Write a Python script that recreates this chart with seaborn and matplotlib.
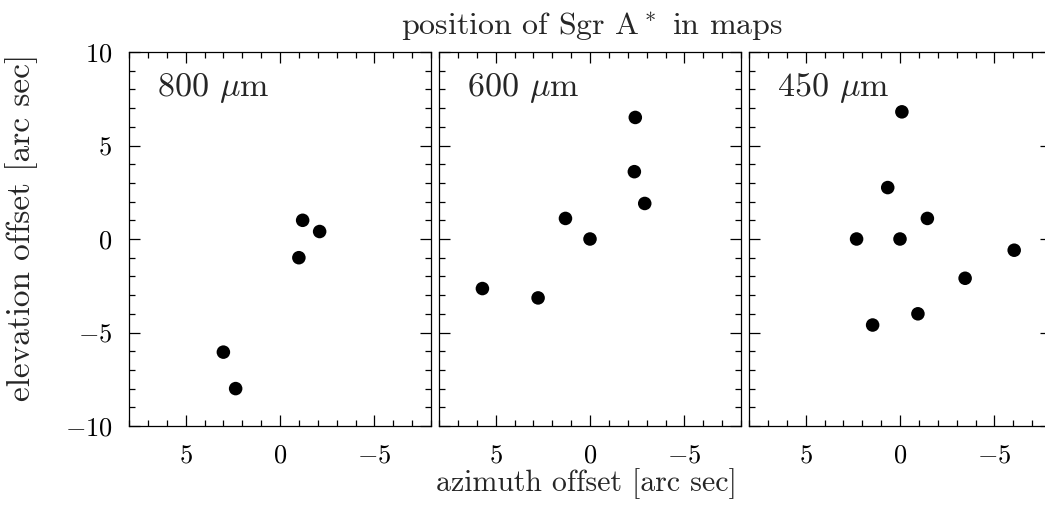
import numpy as np
import pandas as pd
import matplotlib
matplotlib.use("Agg")
import matplotlib.pyplot as plt
from matplotlib.ticker import MultipleLocator
import seaborn as sns

# offsets of Sgr A* (arc sec)
bands = ["800", "600", "450"]
az_800 = [-1.2, -2.1, -1.0, 3.0, 2.35]
el_800 = [1.0, 0.4, -1.0, -6.05, -8.0]
az_600 = [-2.4, -2.35, -2.9, 1.3, 0.0, 5.7, 2.75]
el_600 = [6.5, 3.6, 1.9, 1.1, 0.0, -2.65, -3.15]
az_450 = [-0.1, 0.65, -1.45, 2.3, 0.0, -6.05, -3.45, -0.95, 1.45]
el_450 = [6.8, 2.75, 1.1, 0.0, 0.0, -0.6, -2.1, -4.0, -4.6]

df = pd.concat([
    pd.DataFrame({"band": b, "az": a, "el": e})
    for b, a, e in zip(bands, [az_800, az_600, az_450], [el_800, el_600, el_450])
])

sns.set_theme(style="ticks")
plt.rcParams["font.family"] = ["cmr10"]
plt.rcParams["mathtext.fontset"] = "cm"
plt.rcParams["axes.formatter.use_mathtext"] = True
plt.rcParams["axes.unicode_minus"] = True

W, H = 1045, 514
fig = plt.figure(figsize=(W / 100, H / 100), dpi=100)

lefts = [129, 439, 749]
for i, b in enumerate(bands):
    ax = fig.add_axes([lefts[i] / W, (H - 426) / H, 302 / W, 374 / H])
    sns.scatterplot(data=df[df.band == b], x="az", y="el", ax=ax,
                    color="black", s=95, edgecolor="none", legend=False)
    ax.set_xlim(8, -8)
    ax.set_ylim(-10, 10)
    ax.xaxis.set_major_locator(MultipleLocator(5))
    ax.xaxis.set_minor_locator(MultipleLocator(1))
    ax.yaxis.set_major_locator(MultipleLocator(5))
    ax.yaxis.set_minor_locator(MultipleLocator(1))
    ax.tick_params(which="both", direction="in", top=True, right=True,
                   colors="black", width=0.9)
    ax.tick_params(which="major", length=8, labelsize=19)
    ax.tick_params(which="minor", length=4.3)
    ax.tick_params(axis="x", which="major", pad=13)
    ax.tick_params(axis="y", which="major", pad=12)
    if i > 0:
        ax.tick_params(labelleft=False)
    for sp in ax.spines.values():
        sp.set_color("black")
        sp.set_linewidth(0.9)
    ax.set_xlabel("")
    ax.set_ylabel("")
    ax.text(0.093, 0.882, b + r" $\mu$m", transform=ax.transAxes,
            fontsize=24.5, ha="left", va="baseline")

fig.text(592 / W, (H - 35) / H, r"position of Sgr A$^*$ in maps",
         fontsize=23, ha="center", va="baseline")
fig.text(586 / W, (H - 491) / H, "azimuth offset [arc sec]",
         fontsize=21.5, ha="center", va="baseline")
fig.text(22 / W, (H - 227) / H, "elevation offset [arc sec]",
         fontsize=24, ha="center", va="center", rotation=90)

fig.savefig("out.png", dpi=100)
